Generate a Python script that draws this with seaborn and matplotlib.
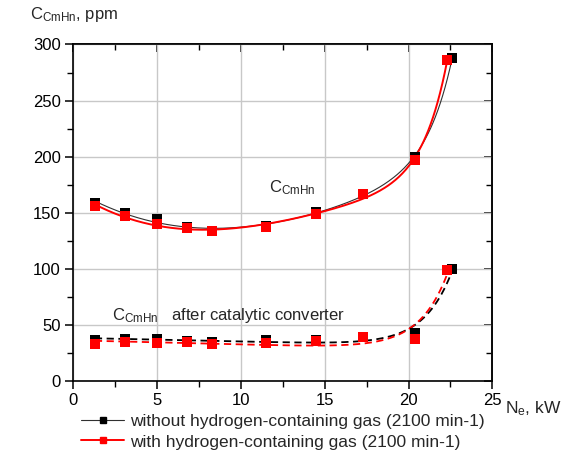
import numpy as np
import pandas as pd
import matplotlib
matplotlib.use("Agg")
import matplotlib.pyplot as plt
import seaborn as sns
from matplotlib.ticker import MultipleLocator
from matplotlib.lines import Line2D

# ---- data ----
x_without = [1.3, 3.1, 5.0, 6.8, 8.3, 11.5, 14.5, 17.3, 20.4, 22.6]
x_with = [1.3, 3.1, 5.0, 6.8, 8.3, 11.5, 14.5, 17.3, 20.4, 22.3]
before_without = [159, 150, 144, 137, 134, 138, 151, 167, 200, 288]
before_with = [156, 147, 140, 136, 134, 137, 149, 167, 197, 286]
after_without = [36.5, 37, 37.7, 35.6, 35, 36.5, 36.5, 39.5, 42.5, 100]
after_with = [33, 35, 33.5, 35, 33, 34, 35.6, 39, 37.5, 99]
series_labels = ["without hydrogen-containing gas (2100 min-1)",
                 "with hydrogen-containing gas (2100 min-1)"]

sns.set_theme(style="white")
plt.rcParams["font.family"] = ["Liberation Sans", "DejaVu Sans"]
plt.rcParams["mathtext.fontset"] = "custom"
plt.rcParams["mathtext.rm"] = "Liberation Sans"
plt.rcParams["mathtext.it"] = "Liberation Sans"


def exp_fit(x, y, deg=2, tmin=0.8):
    x = np.asarray(x, float)
    y = np.asarray(y, float)

    def basis(v, t):
        cols = [v ** k for k in range(deg + 1)]
        cols.append(np.exp(v / t))
        return np.vstack(cols).T

    best = None
    for t in np.linspace(tmin, 8, 300):
        A = basis(x, t)
        coef, *_ = np.linalg.lstsq(A, y, rcond=None)
        r = np.sum((A @ coef - y) ** 2)
        if best is None or r < best[0]:
            best = (r, t, coef)
    _, t, coef = best
    xs = np.linspace(x.min(), x.max(), 300)
    return xs, basis(xs, t) @ coef


fig = plt.figure(figsize=(5.8, 4.54), dpi=100)
ax = fig.add_axes([0.126, 0.161, 0.723, 0.741])

colors = ["#000000", "#ff0000"]
line_colors = ["#303030", "#ff0000"]
lws = [0.8, 1.4]
xs_list = [x_without, x_with]
before = [before_without, before_with]
after = [after_without, after_with]

for i in range(2):
    fx, fy = exp_fit(xs_list[i], before[i], deg=3, tmin=1.5)
    sns.lineplot(x=fx, y=fy, ax=ax, color=line_colors[i], lw=lws[i], zorder=3 + i)
    fx, fy = exp_fit(xs_list[i], after[i], deg=1, tmin=1.7)
    sns.lineplot(x=fx, y=fy, ax=ax, color=colors[i], lw=1.3,
                 linestyle=(0, (4, 2.5)), zorder=3 + i)

for i in range(2):
    df = pd.DataFrame({"x": xs_list[i] + xs_list[i], "y": before[i] + after[i]})
    sns.scatterplot(data=df, x="x", y="y", ax=ax, marker="s", s=42,
                    color=colors[i], edgecolor=colors[i], linewidth=0, zorder=5 + i)

ax.set_xlim(0, 25)
ax.set_ylim(0, 300)
ax.set_xlabel("")
ax.set_ylabel("")
ax.xaxis.set_major_locator(MultipleLocator(5))
ax.xaxis.set_minor_locator(MultipleLocator(2.5))
ax.yaxis.set_major_locator(MultipleLocator(50))
ax.yaxis.set_minor_locator(MultipleLocator(25))
ax.grid(True, which="major", color="#c8c8c8", lw=1.0)
ax.set_axisbelow(True)
for s in ax.spines.values():
    s.set_color("black")
    s.set_linewidth(1.2)
ax.tick_params(which="both", direction="out", colors="black", labelsize=12,
               bottom=True, left=True, top=False, right=False)
ax.tick_params(which="major", length=6, width=1.1)
ax.tick_params(which="minor", length=4, width=1.0)
ax.tick_params(axis="x", pad=3)
ax.tick_params(axis="y", pad=3)

# mirrored inward ticks on top and right
secx = ax.secondary_xaxis("top")
secx.xaxis.set_major_locator(MultipleLocator(5))
secx.xaxis.set_minor_locator(MultipleLocator(2.5))
secx.tick_params(which="both", direction="in", labeltop=False, colors="black")
secx.tick_params(which="major", length=6, width=1.1)
secx.tick_params(which="minor", length=4, width=1.0)
secy = ax.secondary_yaxis("right")
secy.yaxis.set_major_locator(MultipleLocator(50))
secy.yaxis.set_minor_locator(MultipleLocator(25))
secy.tick_params(which="both", direction="in", labelright=False, colors="black")
secy.tick_params(which="major", length=6, width=1.1)
secy.tick_params(which="minor", length=4, width=1.0)

fig.text(30 / 580, 1 - 15 / 454, r"C$_{\mathrm{CmHn}}$, ppm", fontsize=12,
         va="center", ha="left")
fig.text(505 / 580, 1 - 409 / 454, r"N$_{\mathrm{e}}$, kW", fontsize=12.5,
         va="center", ha="left")
ax.text(11.7, 172, r"C$_{\mathrm{CmHn}}$", fontsize=12, va="center", ha="left")
ax.text(2.3, 58, r"C$_{\mathrm{CmHn}}$   after catalytic converter", fontsize=12,
        va="center", ha="left")

handles = [
    Line2D([], [], color="#303030", lw=0.8, marker="s", markersize=4.5,
           markerfacecolor="black", markeredgecolor="black"),
    Line2D([], [], color="#ff0000", lw=1.4, marker="s", markersize=4.5),
]
fig.legend(handles, series_labels, loc="upper left",
           bbox_to_anchor=(81 / 580, 1 - 414 / 454), frameon=False,
           fontsize=12.5, handlelength=2.5, handletextpad=0.3,
           labelspacing=0.3, borderaxespad=0, borderpad=0)

fig.savefig("out.png", dpi=100)
